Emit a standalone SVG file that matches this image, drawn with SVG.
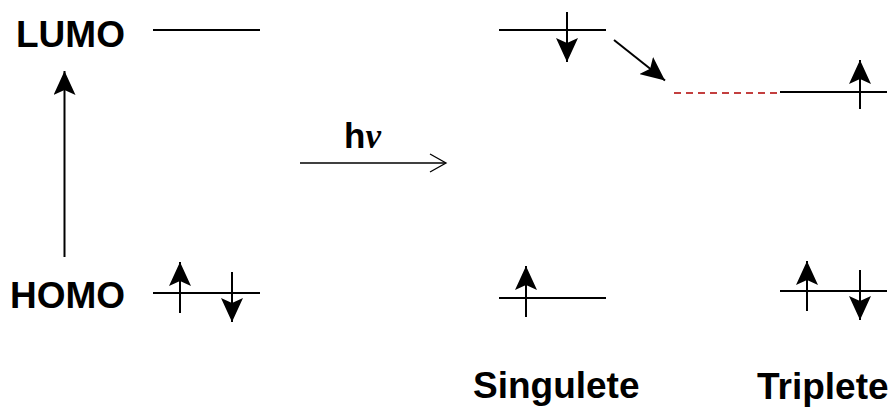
<svg xmlns="http://www.w3.org/2000/svg" width="893" height="408" viewBox="0 0 893 408">
<style>
.lbl{font-family:"Liberation Sans",Arial,sans-serif;font-weight:bold;font-size:37px;fill:#000}
.lvl{stroke:#000;stroke-width:2;fill:none}
.spin{stroke:#000;stroke-width:2;fill:none}
.thin{stroke:#000;stroke-width:1.3;fill:none}
</style>
<defs>
<marker id="head" viewBox="0 0 24 22" refX="24" refY="11" markerWidth="24" markerHeight="22" markerUnits="userSpaceOnUse" orient="auto">
<path d="M0,0 L24,11 L0,22 L5,11 Z" fill="#000"/>
</marker>
</defs>
<rect width="893" height="408" fill="#fff"/>
<g id="ground-state">
<text class="lbl" x="16" y="47">LUMO</text>
<text class="lbl" x="10" y="308">HOMO</text>
<line class="lvl" x1="153" y1="30" x2="260" y2="30"/>
<line class="lvl" x1="153" y1="293" x2="260" y2="293"/>
<line class="spin" x1="180" y1="313" x2="180" y2="262" marker-end="url(#head)"/>
<line class="spin" x1="232" y1="272" x2="232" y2="322" marker-end="url(#head)"/>
</g>
<g id="singlet">
<line class="lvl" x1="499" y1="30" x2="606" y2="30"/>
<line class="spin" x1="567" y1="12" x2="567" y2="62" marker-end="url(#head)"/>
<line class="lvl" x1="499" y1="298" x2="606" y2="298"/>
<line class="spin" x1="526" y1="317" x2="526" y2="266" marker-end="url(#head)"/>
<text class="lbl" x="473" y="398">Singulete</text>
</g>
<g id="triplet">
<line x1="674" y1="93" x2="780" y2="93" stroke="#b00000" stroke-width="1.5" stroke-dasharray="7,5"/>
<line class="lvl" x1="780" y1="92" x2="887" y2="92"/>
<line class="spin" x1="860" y1="109" x2="860" y2="60" marker-end="url(#head)"/>
<line class="lvl" x1="780" y1="291" x2="887" y2="291"/>
<line class="spin" x1="807" y1="311" x2="807" y2="261" marker-end="url(#head)"/>
<line class="spin" x1="860" y1="270" x2="860" y2="320" marker-end="url(#head)"/>
<text class="lbl" x="757" y="399">Triplete</text>
</g>
<g id="connectors">
<line class="spin" x1="64.5" y1="257" x2="64.5" y2="71" marker-end="url(#head)"/>
<line class="spin" x1="614" y1="40" x2="665" y2="80.5" marker-end="url(#head)"/>
<line class="thin" x1="300" y1="163" x2="445" y2="163"/>
<polyline class="thin" points="430,154 446,163 430,172"/>
<text x="344" y="148" font-size="35"><tspan font-family="Liberation Sans, Arial, sans-serif" font-weight="bold">h</tspan><tspan font-family="Liberation Serif, Times New Roman, serif" font-style="italic" font-weight="bold">ν</tspan></text>
</g>
</svg>
